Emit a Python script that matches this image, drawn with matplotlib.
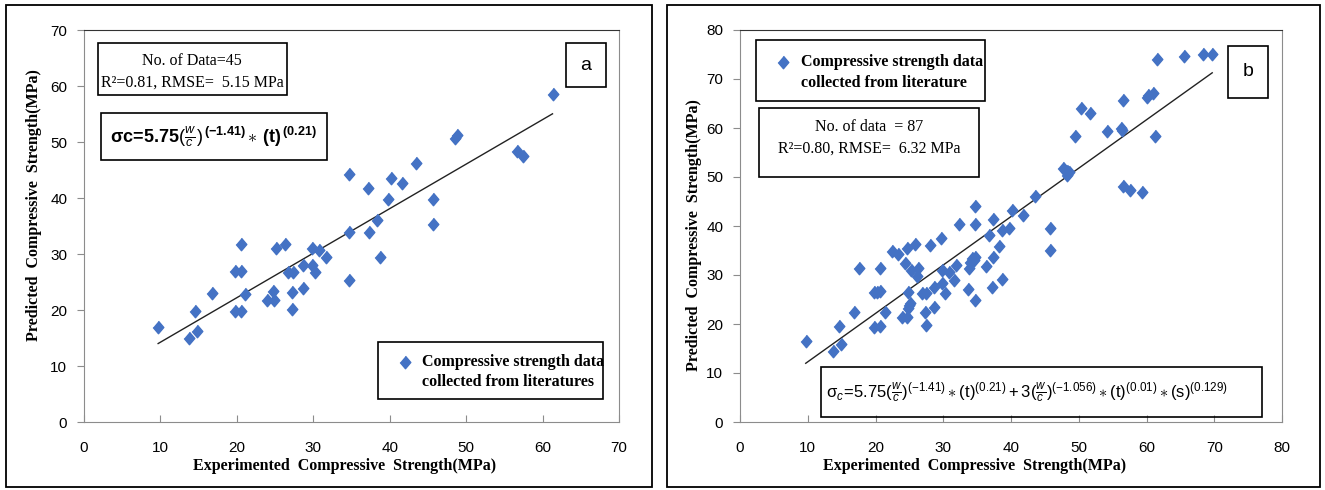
import matplotlib
matplotlib.use('Agg')
import matplotlib.pyplot as plt
from matplotlib.patches import Rectangle
from matplotlib.lines import Line2D
import numpy as np

# panel a : 45 points
exp_a = [61.3, 48.6, 48.8, 56.6, 57.4, 43.5, 34.7, 40.2, 41.6, 37.2,
         39.8, 45.6, 45.6, 38.4, 34.7, 37.3, 38.7, 34.7, 20.6, 25.1,
         26.3, 29.8, 30.7, 31.6, 19.8, 20.5, 26.7, 27.3, 28.6, 29.8,
         30.2, 16.8, 21.1, 24.7, 27.2, 28.6, 23.9, 24.8, 19.8, 20.5,
         27.2, 14.5, 9.7, 14.8, 13.8]
pred_a = [58.5, 50.8, 51.2, 48.4, 47.5, 46.3, 44.2, 43.5, 42.6, 41.7,
          39.9, 39.9, 35.3, 36.1, 34.0, 34.0, 29.5, 25.4, 31.7, 31.0,
          31.7, 31.1, 30.7, 29.5, 27.0, 27.0, 26.8, 26.8, 28.0, 28.1,
          26.8, 23.1, 22.9, 23.4, 23.2, 24.0, 21.8, 21.8, 19.9, 19.9,
          20.2, 19.9, 17.0, 16.2, 15.0]
trend_a = (0.795, 6.3)

# panel b : 87 points
exp_b = [61.6, 65.5, 68.3, 69.7, 56.6, 60.2, 60.9, 60.0, 50.3, 51.7,
         49.4, 54.1, 56.2, 56.4, 61.3, 47.7, 48.6, 48.3, 56.6, 57.5,
         59.3, 43.6, 34.7, 40.2, 41.7, 37.4, 32.3, 34.7, 39.7, 38.6,
         45.7, 45.7, 36.7, 29.7, 28.0, 25.8, 24.6, 22.5, 23.3, 38.3,
         17.5, 20.7, 24.4, 25.2, 26.3, 26.1, 29.8, 30.8, 31.9, 31.6,
         33.9, 34.3, 34.7, 33.8, 37.4, 36.3, 38.6, 37.2, 33.7, 34.7,
         19.8, 20.6, 24.8, 26.8, 27.4, 28.6, 29.8, 30.2, 25.1, 24.8,
         28.6, 27.3, 27.4, 23.9, 24.7, 21.4, 16.9, 19.8, 20.6, 14.6,
         14.9, 13.8, 9.7, 34.5, 48.2, 20.2, 25.0]
pred_b = [74.0, 74.6, 75.1, 75.1, 65.7, 66.7, 67.1, 66.3, 64.0, 63.1,
          58.4, 59.3, 59.9, 59.6, 58.4, 51.9, 51.1, 50.4, 48.2, 47.3,
          47.0, 46.1, 44.1, 43.3, 42.3, 41.5, 40.5, 40.5, 39.6, 39.1,
          39.6, 35.2, 38.2, 37.6, 36.1, 36.3, 35.6, 34.8, 34.3, 35.9,
          31.4, 31.4, 32.4, 31.0, 31.4, 29.7, 31.0, 30.7, 32.0, 29.0,
          32.7, 33.4, 33.6, 31.4, 33.7, 31.8, 29.1, 27.5, 27.1, 25.0,
          26.5, 26.8, 26.5, 26.4, 26.4, 27.5, 28.3, 26.4, 24.2, 23.2,
          23.5, 22.5, 19.7, 21.5, 21.5, 22.5, 22.5, 19.3, 19.6, 19.5,
          15.9, 14.4, 16.5, 33.0, 51.3, 26.6, 23.8]
trend_b = (0.988, 2.4)

xmax_a, ymax_a = 70, 70
xmax_b, ymax_b = 80, 80

W, H = 1325, 490
BLUE = '#4472C4'
GREY = '#8c8c8c'
SERIF = ['Liberation Serif', 'DejaVu Serif']
SANS = ['Liberation Sans', 'DejaVu Sans']

plt.rcParams['mathtext.fontset'] = 'custom'
plt.rcParams['mathtext.rm'] = 'Liberation Sans'
plt.rcParams['mathtext.it'] = 'Liberation Sans:italic'
plt.rcParams['mathtext.bf'] = 'Liberation Sans:bold'

diamond = [(0, 1), (0.85, 0), (0, -1), (-0.85, 0)]

fig = plt.figure(figsize=(W / 100, H / 100), dpi=100)


def box(x0, y0, x1, y1, lw=1.2):
	fig.add_artist(Rectangle((x0 / W, 1 - y1 / H), (x1 - x0) / W, (y1 - y0) / H,
	                         transform=fig.transFigure, fill=False, ec='black', lw=lw))


def txt(x, y, s, **kw):
	fig.text(x / W, 1 - y / H, s, **kw)


def setup(ax, xmax, ymax):
	ax.set_xlim(0, xmax)
	ax.set_ylim(0, ymax)
	ax.set_xticks(np.arange(0, xmax + 1, 10))
	ax.set_yticks(np.arange(0, ymax + 1, 10))
	for side in ['left', 'bottom', 'right']:
		ax.spines[side].set_color(GREY)
	ax.spines['top'].set_color('#333333')
	ax.tick_params(axis='x', direction='in', length=5, color=GREY, pad=14)
	ax.tick_params(axis='y', direction='out', length=5, color=GREY, pad=7)
	for lab in ax.get_xticklabels() + ax.get_yticklabels():
		lab.set_family(SANS)
		lab.set_fontsize(11)
		lab.set_color('black')


def scatter_panel(ax, x, y, trend):
	ax.plot(x, y, linestyle='none', marker=diamond, markersize=9, color=BLUE, zorder=3)
	xs = np.array([min(x), max(x)])
	ax.plot(xs, trend[0] * xs + trend[1], color='#222222', lw=1, zorder=2)


# outer panel frames
box(6, 5, 652, 487, lw=1.3)
box(667, 5, 1320, 487, lw=1.3)

ax_a = fig.add_axes([84 / W, 1 - 422 / H, (619 - 84) / W, 392 / H])
setup(ax_a, xmax_a, ymax_a)
scatter_panel(ax_a, exp_a, pred_a, trend_a)

ax_b = fig.add_axes([740 / W, 1 - 422 / H, (1282 - 740) / W, 392 / H])
setup(ax_b, xmax_b, ymax_b)
scatter_panel(ax_b, exp_b, pred_b, trend_b)

# axis titles
lab_kw = dict(family=SERIF, fontweight='bold', fontsize=11.5, ha='center', va='center')
txt(345, 466, 'Experimented  Compressive  Strength(MPa)', **lab_kw)
txt(975, 466, 'Experimented  Compressive  Strength(MPa)', **lab_kw)
txt(34, 205, 'Predicted  Compressive  Strength(MPa)', rotation=90, **lab_kw)
txt(694, 235, 'Predicted  Compressive  Strength(MPa)', rotation=90, **lab_kw)

# panel a annotations
box(98, 43, 287, 95)
txt(192, 61, 'No. of Data=45', family=SERIF, fontsize=11.5, ha='center', va='center')
txt(192, 83, 'R²=0.81, RMSE=  5.15 MPa', family=SERIF, fontsize=11.5, ha='center', va='center')

box(101, 113, 327, 160)
txt(110, 137, r'$\mathbf{\sigma c\!=\!5.75}(\frac{w}{c})^{\,\mathbf{(-1.41)}}\ast\,\mathbf{(t)}^{\,\mathbf{(0.21)}}$',
    fontsize=13, ha='left', va='center')

box(566, 43, 606, 87)
txt(586, 65, 'a', family=SANS, fontsize=14, ha='center', va='center')

box(378, 342, 603, 399)
fig.add_artist(Line2D([405 / W], [1 - 362 / H], marker=diamond, markersize=9,
                      color=BLUE, linestyle='none', transform=fig.transFigure))
txt(422, 362, 'Compressive strength data', family=SERIF, fontweight='bold', fontsize=11.5, ha='left', va='center')
txt(422, 382, 'collected from literatures', family=SERIF, fontweight='bold', fontsize=11.5, ha='left', va='center')

# panel b annotations
box(756, 40, 985, 101)
fig.add_artist(Line2D([783 / W], [1 - 62 / H], marker=diamond, markersize=9,
                      color=BLUE, linestyle='none', transform=fig.transFigure))
txt(801, 62, 'Compressive strength data', family=SERIF, fontweight='bold', fontsize=11.5, ha='left', va='center')
txt(801, 83, 'collected from literature', family=SERIF, fontweight='bold', fontsize=11.5, ha='left', va='center')

box(759, 108, 979, 177)
txt(869, 127, 'No. of data  = 87', family=SERIF, fontsize=11.5, ha='center', va='center')
txt(869, 149, 'R²=0.80, RMSE=  6.32 MPa', family=SERIF, fontsize=11.5, ha='center', va='center')

box(1228, 46, 1268, 98)
txt(1248, 72, 'b', family=SANS, fontsize=14, ha='center', va='center')

box(821, 367, 1262, 417)
txt(826, 392, r'$\mathrm{\sigma}_{c}\!=\!5.75(\frac{w}{c})^{(-1.41)}\ast(\mathrm{t})^{(0.21)}+3(\frac{w}{c})^{(-1.056)}'
    r'\ast(\mathrm{t})^{(0.01)}\ast(\mathrm{s})^{(0.129)}$',
    fontsize=12, ha='left', va='center')

fig.savefig('out.png', dpi=100)
